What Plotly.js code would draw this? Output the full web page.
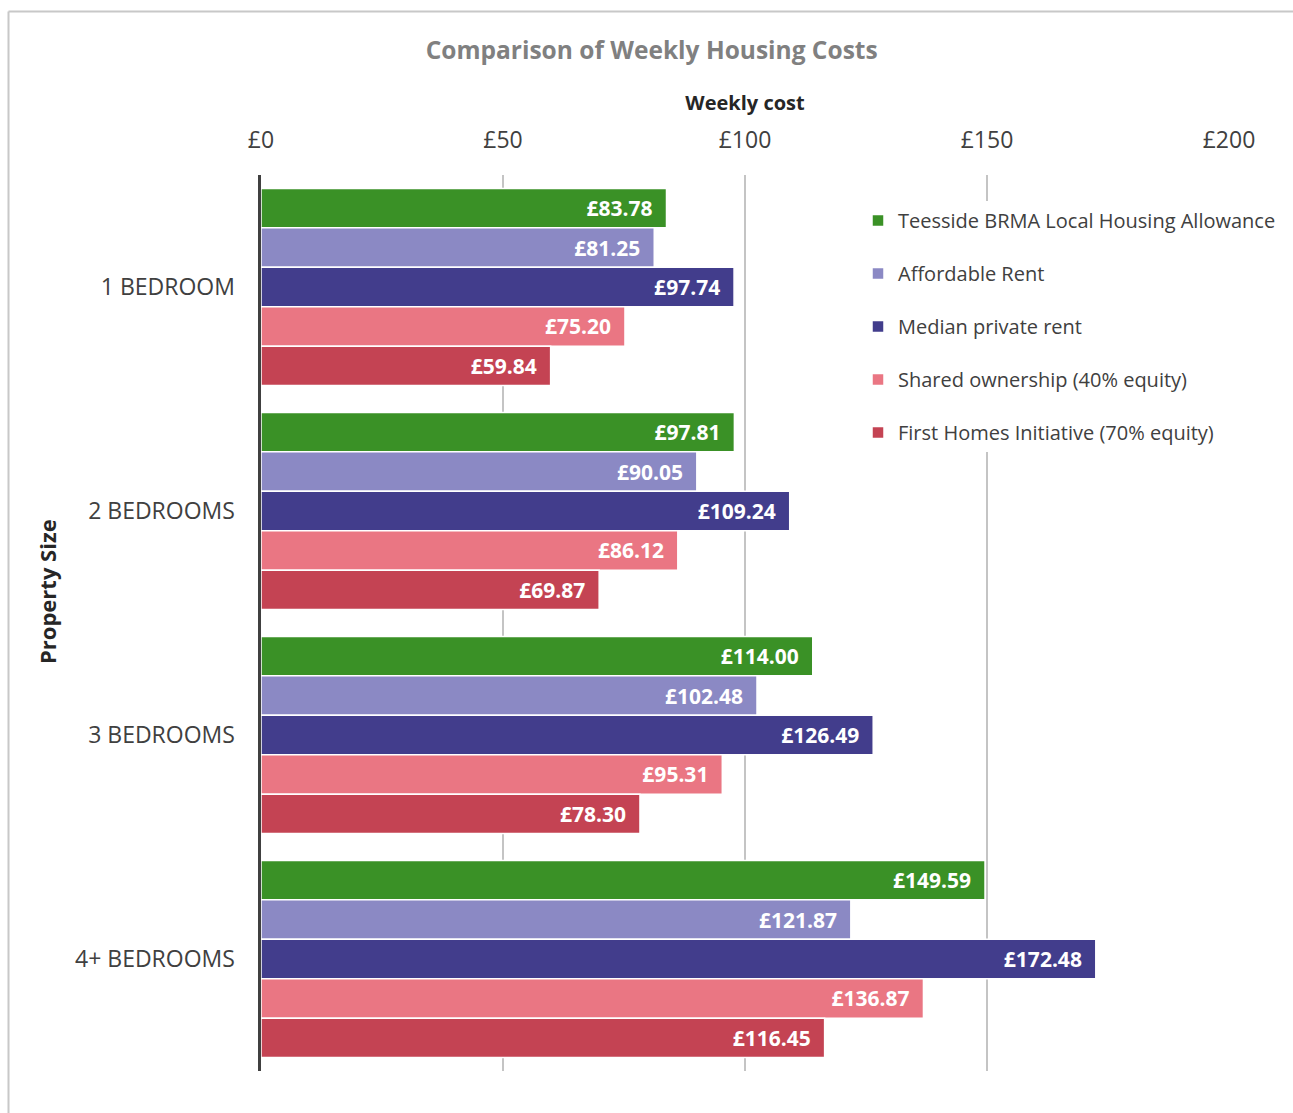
<!DOCTYPE html>
<html>
<head>
<meta charset="utf-8">
<script src="https://cdn.plot.ly/plotly-3.0.1.min.js"></script>
<style>
  html, body { margin: 0; padding: 0; background: #ffffff; }
  #chart { width: 1293px; height: 1113px; }
</style>
</head>
<body>
<div id="chart"></div>
<script>
// Property sizes (top to bottom)
const propertySizes = ['1 BEDROOM', '2 BEDROOMS', '3 BEDROOMS', '4+ BEDROOMS'];

// Weekly cost per tenure type, in £
const teessideLHA      = [83.78, 97.81, 114.00, 149.59];
const affordableRent   = [81.25, 90.05, 102.48, 121.87];
const medianPrivate    = [97.74, 109.24, 126.49, 172.48];
const sharedOwnership  = [75.20, 86.12, 95.31, 136.87];
const firstHomes       = [59.84, 69.87, 78.30, 116.45];

const seriesNames = [
  'Teesside BRMA Local Housing Allowance',
  'Affordable Rent',
  'Median private rent',
  'Shared ownership (40% equity)',
  'First Homes Initiative (70% equity)'
];
const seriesValues = [teessideLHA, affordableRent, medianPrivate, sharedOwnership, firstHomes];
const seriesColors = ['#3a9126', '#8b89c4', '#423d8c', '#ea7683', '#c44353'];

const xTicks = [0, 50, 100, 150, 200];
const xTickText = ['£0', '£50', '£100', '£150', '£200'];

const FONT = 'Open Sans, Noto Sans, sans-serif';
const W = 1293, H = 1113;
const PL = 261, PT = 175, PW = 968, PH = 896;   // plot area in pixels

const traces = seriesNames.map((name, i) => ({
  type: 'bar',
  orientation: 'h',
  name: name,
  y: propertySizes,
  x: seriesValues[i],
  legendgroup: 'g' + i,
  marker: { color: seriesColors[i], line: { color: '#ffffff', width: 1.5 } },
  texttemplate: '£%{x:.2f}\u00a0\u00a0',
  textposition: 'inside',
  insidetextanchor: 'end',
  textangle: 0,
  textfont: { family: FONT, size: 21, color: '#ffffff', weight: 'bold' },
  hoverinfo: 'name+x'
}));

const layout = {
  width: W,
  height: H,
  paper_bgcolor: '#ffffff',
  plot_bgcolor: '#ffffff',
  margin: { l: PL, r: W - PL - PW, t: PT, b: H - PT - PH },
  font: { family: FONT, color: '#404040' },
  barmode: 'group',
  bargap: 0.12,
  bargroupgap: 0,
  title: {
    text: '<b>Comparison of Weekly Housing Costs</b>',
    font: { family: FONT, size: 24.5, color: '#808080' },
    x: 0.504, xref: 'container', xanchor: 'center',
    y: 1 - 50 / H, yref: 'container', yanchor: 'middle'
  },
  xaxis: {
    side: 'top',
    range: [0, 200],
    tickvals: xTicks,
    ticktext: xTickText,
    tickfont: { family: FONT, size: 23, color: '#404040' },
    ticks: '',
    ticklabelstandoff: 21,
    showgrid: true,
    gridcolor: '#c4c4c4',
    gridwidth: 1.5,
    zeroline: false,
    showline: false,
    title: {
      text: '<b>Weekly cost</b>',
      font: { family: FONT, size: 20, color: '#262626' },
      standoff: 7
    },
    fixedrange: true
  },
  yaxis: {
    type: 'category',
    autorange: 'reversed',
    tickfont: { family: FONT, size: 23, color: '#404040' },
    ticks: '',
    ticklabelstandoff: 18,
    showline: true,
    linecolor: '#404040',
    linewidth: 3.5,
    showgrid: false,
    zeroline: false,
    fixedrange: true
  },
  legend: {
    x: (858 - PL) / PW,
    xanchor: 'left',
    y: 1 - (201 - PT) / PH,
    yanchor: 'top',
    bgcolor: '#ffffff',
    font: { family: FONT, size: 20, color: '#404040' },
    traceorder: 'grouped',
    tracegroupgap: 24,
    itemclick: false,
    itemdoubleclick: false
  },
  annotations: [{
    text: '<b>Property Size</b>',
    textangle: -90,
    xref: 'paper', yref: 'paper',
    x: (47 - PL) / PW, xanchor: 'center',
    y: 1 - (592 - PT) / PH, yanchor: 'middle',
    showarrow: false,
    font: { family: FONT, size: 22, color: '#262626' }
  }],
  shapes: [
    { type: 'line', xref: 'paper', yref: 'paper',
      x0: (8.5 - PL) / PW, x1: 1.2, y0: 1 + (PT - 11.5) / PH, y1: 1 + (PT - 11.5) / PH,
      line: { color: '#c8c8c8', width: 2 } },
    { type: 'line', xref: 'paper', yref: 'paper',
      x0: (8.5 - PL) / PW, x1: (8.5 - PL) / PW, y0: 1 + (PT - 11.5) / PH, y1: -0.1,
      line: { color: '#c8c8c8', width: 2 } }
  ],
  showlegend: true
};

Plotly.newPlot('chart', traces, layout, { displayModeBar: false, staticPlot: true });
</script>
</body>
</html>
